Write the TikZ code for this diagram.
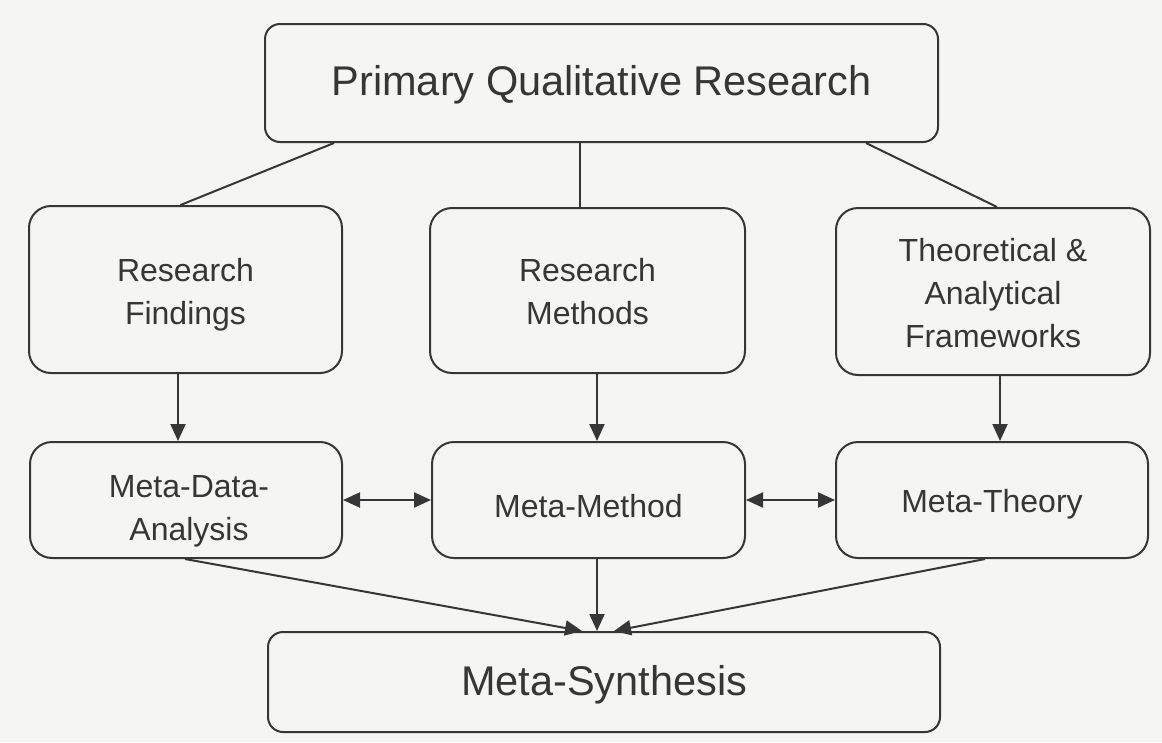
\documentclass[tikz,border=0pt]{standalone}
\usepackage{fontspec}
\setmainfont{Liberation Sans}
\usetikzlibrary{arrows.meta,calc}
\definecolor{ink}{HTML}{363636}
\definecolor{bg}{HTML}{F5F5F4}
\tikzset{
  box/.style={draw=ink, line width=2pt, rounded corners=22pt, inner sep=0pt},
  bigbox/.style={box, rounded corners=15pt},
  txt/.style={text=ink, align=center, inner sep=0pt},
  smalltext/.style={txt, font=\fontsize{32}{43}\selectfont},
  bigtext/.style={txt, font=\fontsize{41.5}{48}\selectfont},
  conn/.style={draw=ink, line width=2pt},
  arr/.style={conn, -{Triangle[length=17pt,width=15pt]}},
  darr/.style={conn, {Triangle[length=17pt,width=15pt]}-{Triangle[length=17pt,width=15pt]}}
}
\begin{document}
\begin{tikzpicture}[x=1pt,y=-1pt]
\fill[bg] (0,0) rectangle (1162,742);
\useasboundingbox (0,0) rectangle (1162,742);
% boxes
\node[bigbox,minimum width=673pt,minimum height=118pt] (top) at (601.5,83) {};
\node[box,minimum width=313pt,minimum height=167pt] (rf) at (185.5,289.5) {};
\node[box,minimum width=315pt,minimum height=165pt] (rm) at (587.5,290.5) {};
\node[box,minimum width=314pt,minimum height=167pt] (tf) at (993,291.5) {};
\node[box,minimum width=312pt,minimum height=116pt] (mda) at (186,500) {};
\node[box,minimum width=313pt,minimum height=116pt] (mm) at (588.5,500) {};
\node[box,minimum width=312pt,minimum height=116pt] (mt) at (992,500) {};
\node[bigbox,minimum width=672pt,minimum height=100pt] (ms) at (604,682) {};
% texts
\node[bigtext] (topt) at ([yshift=-2pt]top.center) {Primary Qualitative Research};
\node[smalltext] (rft) at ([yshift=-5pt]rf.center) {Research\\Findings};
\node[smalltext] (rmt) at ([yshift=-1pt]rm.center) {Research\\Methods};
\node[smalltext] (tft) at ([yshift=-2pt]tf.center) {Theoretical \&\\Analytical\\Frameworks};
\node[smalltext] (mdat) at ([xshift=3pt,yshift=-11pt]mda.center) {Meta-Data-\\Analysis};
\node[smalltext] (mmt) at ([yshift=-6pt]mm.center) {Meta-Method};
\node[smalltext] (mtt) at ([yshift=-4pt]mt.center) {Meta-Theory};
\node[bigtext] (mst) at ([yshift=-3pt]ms.center) {Meta-Synthesis};
% top connections
\draw[conn] ([xshift=70pt]top.south west) -- ([xshift=-5pt]rf.north);
\draw[conn] (top.south -| 580,0) -- (rm.north -| 580,0);
\draw[conn] ([xshift=-73pt]top.south east) -- ([xshift=4pt]tf.north);
% down arrows
\draw[arr] (rf.south -| 178,0) -- (mda.north -| 178,0);
\draw[arr] (rm.south -| 597,0) -- (mm.north -| 597,0);
\draw[arr] (tf.south -| 1000,0) -- (mt.north -| 1000,0);
% horizontal double arrows
\draw[darr] (mda.east) -- (mm.west);
\draw[darr] (mm.east) -- (mt.west);
% to synthesis
\draw[arr] ([xshift=-1pt]mda.south) -- ([xshift=-22pt]ms.north);
\draw[arr] (mm.south -| 597,0) -- (ms.north -| 597,0);
\draw[arr] ([xshift=-7pt]mt.south) -- ([xshift=10pt]ms.north);
\end{tikzpicture}
\end{document}
